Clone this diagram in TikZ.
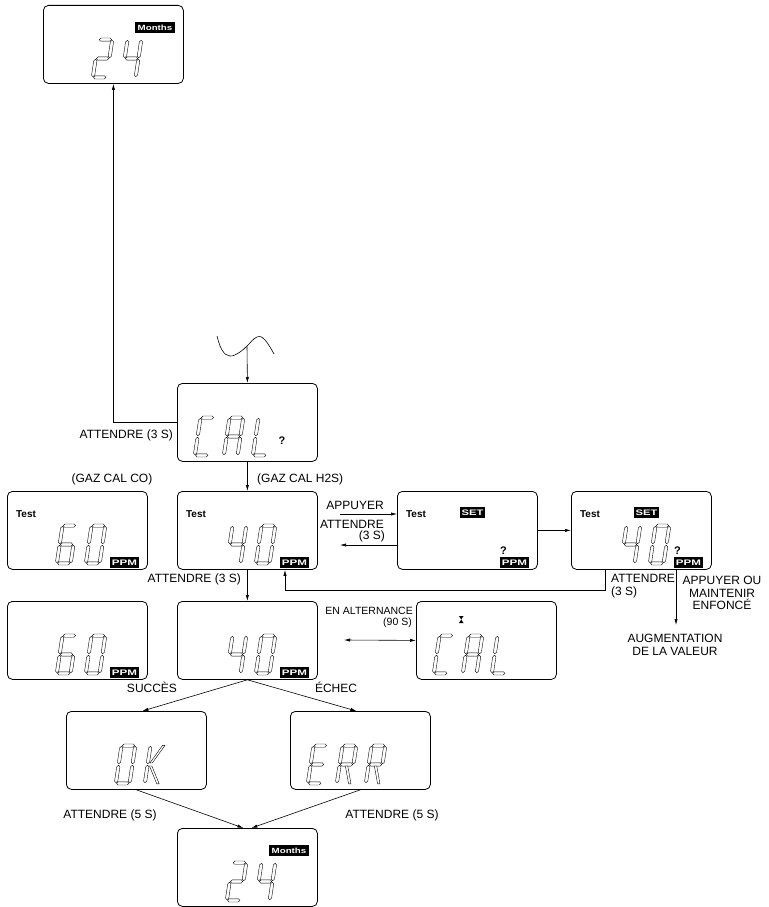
\documentclass[tikz,border=0pt]{standalone}
\usepackage{fontspec}
\setmainfont{Liberation Sans}
\usepackage{graphicx}
\usepackage{tikz}
\usetikzlibrary{calc, arrows.meta}

% segments of one lcd character (local frame, y up)
\newcommand\hseg[3]{\draw[seg] (#2,#1) -- (#2+1.6,#1+1.6) -- (#3-1.6,#1+1.6) -- (#3,#1) -- (#3-1.6,#1-1.6) -- (#2+1.6,#1-1.6) -- cycle;}
\newcommand\vseg[3]{\draw[seg] (#1,#2) -- (#1+1.6,#2+1.6) -- (#1+1.6,#3-1.6) -- (#1,#3) -- (#1-1.6,#3-1.6) -- (#1-1.6,#2+1.6) -- cycle;}
\def\sga{\hseg{39.4}{2.3}{14.7}}
\def\sgb{\vseg{15.4}{21.2}{38.7}}
\def\sgc{\vseg{15.4}{2.3}{19.8}}
\def\sgd{\hseg{1.6}{2.3}{14.7}}
\def\sge{\vseg{1.6}{2.3}{19.8}}
\def\sgf{\vseg{1.6}{21.2}{38.7}}
\def\sgg{\hseg{20.5}{2.3}{14.7}}
\def\sgr{\draw[seg] (7.5,19) -- (13.4,1.2) -- (15.8,1.2) -- (9.9,19) -- cycle;}
\def\sgu{\draw[seg] (3.6,22) -- (13.6,39.6) -- (16,39.6) -- (6,22) -- cycle;}
\def\sgv{\draw[seg] (3.6,19) -- (13.6,1.2) -- (16,1.2) -- (6,19) -- cycle;}
\newcommand\lcdchar[3]{%
  \begin{scope}[shift={(#1,#2)}, yscale=-1, xslant=-0.15]
    \foreach \s in {#3} {\csname sg\s\endcsname}
  \end{scope}}
\newcommand\ppmtag{\node[inv, minimum width=29pt] at (117.5,71.5) {\scalebox{1.45}[1]{PPM}};}
\newcommand\testtag{\node[tst] at (19,23) {Test};}
\newcommand\settag{\node[inv, minimum width=25pt] at (75.5,21.5) {\scalebox{1.4}[1]{SET}};}
\newcommand\monthtag{\node[inv, minimum width=40pt, font=\bfseries\fontsize{7.5}{7.5}\selectfont] at (112,22.5) {\scalebox{1.3}[1]{Months}};}

\begin{document}
\begin{tikzpicture}[x=1pt, y=-1pt, >={Latex[length=6pt,width=3.2pt]},
  lcd/.style={draw, line width=0.8pt, rounded corners=5pt, minimum width=140pt, minimum height=78pt, inner sep=0pt, anchor=north west},
  seg/.style={draw, line width=0.4pt, fill=white, line join=round},
  inv/.style={fill=black, text=white, inner sep=0pt, minimum height=10.5pt, font=\bfseries\fontsize{8}{8}\selectfont},
  lbl/.style={inner sep=0pt, font=\fontsize{12}{12.5}\selectfont},
  smalllbl/.style={inner sep=0pt, font=\fontsize{10.5}{11}\selectfont},
  tst/.style={inner sep=0pt, font=\bfseries\fontsize{10}{10}\selectfont},
  qm/.style={inner sep=0pt, font=\bfseries\fontsize{11}{11}\selectfont},
  conn/.style={line width=0.6pt}]
  \useasboundingbox (0,0) rectangle (768,907);

  \node[lcd] (top24) at (43,5) {};
  \node[lcd] (cal) at (177,383) {};
  \node[lcd] (co) at (7,491) {};
  \node[lcd] (h2s) at (177,491) {};
  \node[lcd] (set1) at (397,491) {};
  \node[lcd] (set2) at (571,491) {};
  \node[lcd] (co2) at (7,601) {};
  \node[lcd] (h2s2) at (177,601) {};
  \node[lcd] (alt) at (416,601) {};
  \node[lcd] (ok) at (66,711) {};
  \node[lcd] (err) at (290,711) {};
  \node[lcd] (bot24) at (177,828) {};

  \begin{scope}[shift={(top24.north west)}]
    \lcdchar{48}{74}{a,b,g,e,d} \lcdchar{77}{74}{f,g,b,c} \monthtag
  \end{scope}
  \begin{scope}[shift={(cal.north west)}]
    \lcdchar{16}{74}{a,f,e,d} \lcdchar{45}{74}{a,b,c,e,f,g} \lcdchar{74}{74}{f,e,d}
    \node[qm] at (105,58) {?};
  \end{scope}
  \begin{scope}[shift={(co.north west)}]
    \testtag \lcdchar{48}{74}{a,f,g,e,d,c} \lcdchar{77}{74}{a,b,c,d,e,f} \ppmtag
  \end{scope}
  \begin{scope}[shift={(h2s.north west)}]
    \testtag \lcdchar{48}{74}{f,g,b,c} \lcdchar{77}{74}{a,b,c,d,e,f} \ppmtag
  \end{scope}
  \begin{scope}[shift={(set1.north west)}]
    \testtag \settag \node[qm] at (106.5,60) {?}; \ppmtag
  \end{scope}
  \begin{scope}[shift={(set2.north west)}]
    \testtag \settag \lcdchar{48}{74}{f,g,b,c} \lcdchar{77}{74}{a,b,c,d,e,f}
    \node[qm] at (106.5,60) {?}; \ppmtag
  \end{scope}
  \begin{scope}[shift={(co2.north west)}]
    \lcdchar{48}{74}{a,f,g,e,d,c} \lcdchar{77}{74}{a,b,c,d,e,f} \ppmtag
  \end{scope}
  \begin{scope}[shift={(h2s2.north west)}]
    \lcdchar{48}{74}{f,g,b,c} \lcdchar{77}{74}{a,b,c,d,e,f} \ppmtag
  \end{scope}
  \begin{scope}[shift={(alt.north west)}]
    \fill (43,15) -- (47.5,15) -- (45.25,18.5) -- (47.5,22) -- (43,22) -- (45.25,18.5) -- cycle;
    \lcdchar{16}{74}{a,f,e,d} \lcdchar{45}{74}{a,b,c,e,f,g} \lcdchar{74}{74}{f,e,d}
  \end{scope}
  \begin{scope}[shift={(ok.north west)}]
    \lcdchar{48}{74}{a,b,c,d,e,f} \lcdchar{77}{74}{f,e,u,v}
  \end{scope}
  \begin{scope}[shift={(err.north west)}]
    \lcdchar{16}{74}{a,f,g,e,d} \lcdchar{45}{74}{a,b,f,g,e,r} \lcdchar{74}{74}{a,b,f,g,e,r}
  \end{scope}
  \begin{scope}[shift={(bot24.north west)}]
    \lcdchar{48}{74}{a,b,g,e,d} \lcdchar{77}{74}{f,g,b,c} \monthtag
  \end{scope}

  % wave and links
  \draw[conn] plot[smooth, tension=0.7] coordinates {(217,336) (222,350) (230,356) (240,352) (247,346) (257,337) (265,340) (274,354)};
  \coordinate (wv) at (247,346);
  \coordinate (pa) at (340,514);
  \coordinate (wa) at (340,545);
  \coordinate (up) at (676,625);
  \coordinate (al) at (344,640);

  \draw[conn,->] (wv) -- (cal.north);
  \draw[conn,->] (cal.west) -| (top24.south);
  \draw[conn,->] (cal.south) -- (h2s.north);
  \draw[conn,->] (h2s.south) -- (h2s2.north);
  \draw[conn,->] (pa) -- (set1.west |- pa);
  \draw[conn,->] (set1.west |- wa) -- (wa);
  \draw[conn,->] (set1.east) -- (set2.west);
  \draw[conn,->] ($(set2.south west)+(34,0)$) -- ++(0,20) -| ($(h2s.south west)+(108,0)$);
  \draw[conn,->] (set2.south west -| up) -- (up);
  \draw[conn,<->] (al) -- (alt.west);
  \draw[conn,->] (h2s2.south) -- ([xshift=6pt]ok.north);
  \draw[conn,->] (h2s2.south) -- ([xshift=-4pt]err.north);
  \draw[conn,->] (ok.south) -- ([xshift=-4pt]bot24.north);
  \draw[conn,->] (err.south) -- ([xshift=4pt]bot24.north);

  \node[lbl, anchor=east] at (173,435) {ATTENDRE (3 S)};
  \node[lbl] at (112,479) {(GAZ CAL CO)};
  \node[lbl, anchor=west] at (257,479) {(GAZ CAL H2S)};
  \node[lbl, anchor=east] at (241,579) {ATTENDRE (3 S)};
  \node[lbl] at (355,505) {APPUYER};
  \node[lbl, anchor=east] at (384,524) {ATTENDRE};
  \node[lbl, anchor=east] at (385,536) {(3 S)};
  \node[lbl, anchor=west] at (611,578) {ATTENDRE};
  \node[lbl, anchor=west] at (611,592) {(3 S)};
  \node[lbl, align=center] at (722,593) {APPUYER OU\\MAINTENIR\\ENFONCÉ};
  \node[lbl, align=center] at (675,645) {AUGMENTATION\\DE LA VALEUR};
  \node[smalllbl, anchor=east] at (413,611) {EN ALTERNANCE};
  \node[smalllbl, anchor=east] at (412,623) {(90 S)};
  \node[lbl] at (152,687) {SUCCÈS};
  \node[lbl] at (336,687) {ÉCHEC};
  \node[lbl] at (110,815) {ATTENDRE (5 S)};
  \node[lbl] at (392,815) {ATTENDRE (5 S)};
\end{tikzpicture}
\end{document}
